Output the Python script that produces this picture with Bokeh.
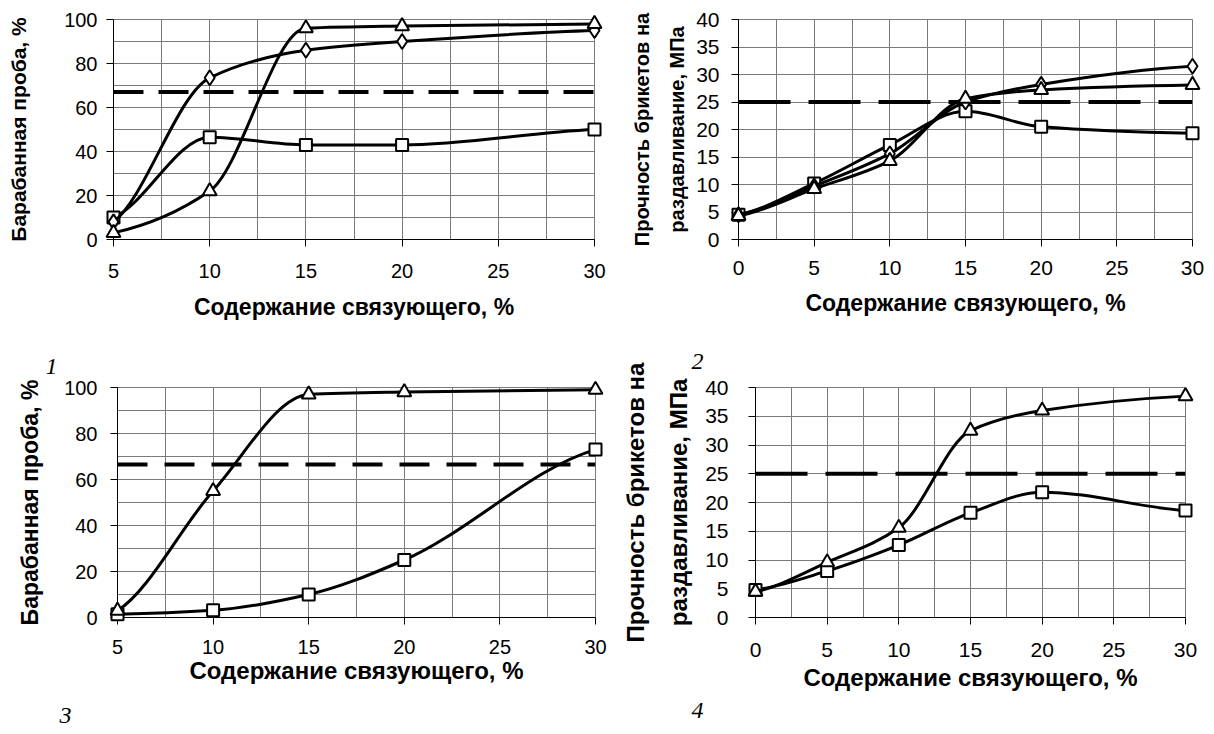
import numpy as np
from bokeh.plotting import figure
from bokeh.layouts import column, row
from bokeh.models import SingleIntervalTicker, Range1d, Span
from bokeh.core.properties import value
from bokeh.embed import file_html
from bokeh.resources import INLINE

# ---------------- data ----------------
# Panel 1 (drum test, %)
p1_x = [5, 10, 15, 20, 30]
p1_diamond = [8, 73.5, 86, 90, 95]
p1_square = [10, 46.5, 43, 43, 50]
p1_triangle = [3, 22, 96, 97, 98]
p1_limit = 67

# Panel 2 (crushing strength, MPa)
p2_x = [0, 5, 10, 15, 20, 30]
p2_diamond = [4.5, 9.7, 15.6, 25.0, 28.2, 31.5]
p2_square = [4.5, 10.2, 17.2, 23.3, 20.5, 19.3]
p2_triangle = [4.3, 9.2, 14.3, 25.6, 27.2, 28.1]
p2_limit = 25

# Panel 3 (drum test, %)
p3_x = [5, 10, 15, 20, 30]
p3_square = [1.4, 3.1, 10, 25, 73]
p3_triangle = [3, 55, 97, 98, 99]
p3_limit = 66.5

# Panel 4 (crushing strength, MPa)
p4_x = [0, 5, 10, 15, 20, 30]
p4_square = [4.8, 8.1, 12.6, 18.2, 21.8, 18.6]
p4_triangle = [4.5, 9.6, 15.6, 32.5, 36, 38.5]
p4_limit = 25

x_title = "Содержание связующего, %"
drum_title = "Барабанная проба, %"
strength_title = "Прочность брикетов на\nраздавливание, МПа"
panel_numbers = ["1", "2", "3", "4"]

FONT = "Liberation Sans"
GRID = "#7a7a7a"


def smooth_segments(xs, ys):
    """Smoothed line through the points: monotone (PCHIP) tangents inside,
    half-secant tangents at the ends, drawn as cubic Bezier segments."""
    x = np.asarray(xs, float)
    y = np.asarray(ys, float)
    h = np.diff(x)
    d = np.diff(y) / h
    n = len(x)
    m = np.zeros(n)
    for i in range(1, n - 1):
        if d[i - 1] * d[i] > 0:
            w1 = 2 * h[i] + h[i - 1]
            w2 = h[i] + 2 * h[i - 1]
            m[i] = (w1 + w2) / (w1 / d[i - 1] + w2 / d[i])
    m[0] = d[0] / 2.0
    m[-1] = d[-1] / 2.0
    return dict(
        x0=x[:-1], y0=y[:-1], x1=x[1:], y1=y[1:],
        cx0=x[:-1] + h / 3.0, cy0=y[:-1] + m[:-1] * h / 3.0,
        cx1=x[1:] - h / 3.0, cy1=y[1:] - m[1:] * h / 3.0,
    )


def make_panel(width, height, borders, xr, yr, xint, yint, yminor, ylabel,
               tick_size, xlab_size, ylab_size, ylab_lh,
               x_std, x_lab_std, y_std, y_lab_std, limit, dash):
    bl, br, bt, bb = borders
    p = figure(width=width, height=height,
               x_range=Range1d(*xr), y_range=Range1d(*yr),
               output_backend="svg", toolbar_location=None,
               min_border_left=bl, min_border_right=br,
               min_border_top=bt, min_border_bottom=bb,
               background_fill_color="white", border_fill_color="white")
    p.outline_line_color = GRID
    xt = SingleIntervalTicker(interval=xint, num_minor_ticks=2)
    yt = SingleIntervalTicker(interval=yint, num_minor_ticks=yminor)
    p.xaxis.ticker = xt
    p.yaxis.ticker = yt
    p.xgrid.ticker = xt
    p.ygrid.ticker = yt
    for g in (p.xgrid, p.ygrid):
        g.grid_line_color = GRID
        g.grid_line_width = 1
        g.minor_grid_line_color = GRID
        g.minor_grid_line_width = 1
    for ax in (p.xaxis, p.yaxis):
        ax.axis_line_color = "black"
        ax.axis_line_width = 1
        ax.major_tick_line_color = "black"
        ax.major_tick_out = 7
        ax.major_tick_in = 0
        ax.minor_tick_line_color = None
        ax.major_label_text_font = FONT
        ax.major_label_text_font_size = tick_size
        ax.major_label_text_color = "black"
        ax.axis_label_text_font = FONT
        ax.axis_label_text_font_style = "bold"
        ax.axis_label_text_color = "black"
    p.xaxis.axis_label = x_title
    p.yaxis.axis_label = ylabel
    p.xaxis.axis_label_text_font_size = xlab_size
    p.yaxis.axis_label_text_font_size = ylab_size
    p.yaxis.axis_label_text_line_height = ylab_lh
    p.xaxis.major_label_standoff = x_std
    p.xaxis.axis_label_standoff = x_lab_std
    p.yaxis.major_label_standoff = y_std
    p.yaxis.axis_label_standoff = y_lab_std
    p.add_layout(Span(location=limit, dimension="width", line_color="black",
                      line_width=4, line_dash=dash))
    return p


def add_series(p, xs, ys, marker, size):
    p.bezier(**smooth_segments(xs, ys), line_color="black",
             line_width=3, line_cap="round", level="overlay")
    p.scatter(xs, ys, marker=marker, size=size, fill_color="white",
              line_color="black", line_width=2, level="overlay")


def add_number(p, x, y, txt):
    p.text(x=[x], y=[y], text=[txt], text_font=value("Liberation Serif"),
           text_font_style="italic", text_font_size="24px", text_color="black",
           text_align="center", text_baseline="middle", level="overlay")


# ---------------- panels ----------------
p1 = make_panel(608, 330, (113, 14, 19, 85), (5, 30), (0, 100), 5, 20, 2,
                drum_title, "20px", "23px", "21px", 1.2,
                17, 13, 9, 31, p1_limit, "30 15")
add_series(p1, p1_x, p1_square, "square", 12)
add_series(p1, p1_x, p1_diamond, "diamond", 15)
add_series(p1, p1_x, p1_triangle, "triangle", 14)

p2 = make_panel(598, 330, (130, 14, 17, 91), (0, 30), (0, 40), 5, 5, 0,
                strength_title, "21px", "23px", "20px", 1.575,
                14, 12, 12, 5, p2_limit, "52 18")
add_series(p2, p2_x, p2_square, "square", 12)
add_series(p2, p2_x, p2_diamond, "diamond", 15)
add_series(p2, p2_x, p2_triangle, "triangle", 14)

p3 = make_panel(608, 402, (117, 13, 57, 115), (5, 30), (0, 100), 5, 20, 2,
                drum_title, "20px", "24px", "23px", 1.2,
                15, 0, 13, 18, p3_limit, "30 17")
add_series(p3, p3_x, p3_square, "square", 12)
add_series(p3, p3_x, p3_triangle, "triangle", 14)

p4 = make_panel(598, 402, (147, 21, 57, 109), (0, 30), (0, 40), 5, 5, 0,
                strength_title, "21px", "24px", "24px", 1.6,
                18, 4, 20, 10, p4_limit, "52 18")
add_series(p4, p4_x, p4_square, "square", 12)
add_series(p4, p4_x, p4_triangle, "triangle", 14)

# figure numbers (italic serif), placed outside the frames
add_number(p3, 1.55, 109, panel_numbers[0])
add_number(p4, -4.05, 44.6, panel_numbers[1])
add_number(p3, 2.28, -42.6, panel_numbers[2])
add_number(p4, -4.05, -16.1, panel_numbers[3])

layout = column(row(p1, p2), row(p3, p4))
open("out.html", "w").write(file_html(layout, INLINE))
